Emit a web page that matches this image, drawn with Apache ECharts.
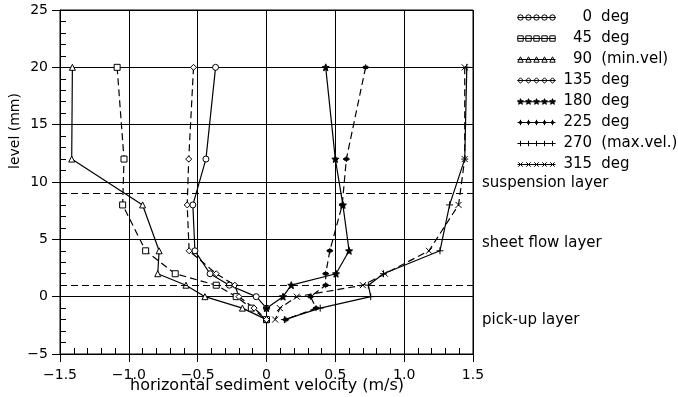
<!DOCTYPE html>
<html><head><meta charset="utf-8">
<script src="https://cdn.jsdelivr.net/npm/echarts@6/dist/echarts.min.js"></script>
<style>html,body{margin:0;padding:0;background:#fff}#c{width:678px;height:397px}</style>
</head><body><div id="c"></div>
<script>
// ---- data ----
const levels = [20, 12, 8, 4, 2, 1, 0, -1, -2];               // mm
const seriesNames = ['0 deg', '45 deg', '90 (min.vel)', '135 deg', '180 deg', '225 deg', '270 (max.vel.)', '315 deg'];
const vel0   = [-0.37, -0.44, -0.535, -0.52, -0.41, -0.27, -0.075, 0.0];
const vel45  = [-1.085, -1.035, -1.045, -0.878, -0.663, -0.365, -0.22, -0.11, 0.0];
const vel90  = [-1.41, -1.415, -0.90, -0.78, -0.79, -0.585, -0.447, -0.175, 0.0];
const vel135 = [-0.53, -0.565, -0.576, -0.562, -0.365, -0.23, -0.20, -0.09, 0.0];
const vel180 = [0.43, 0.50, 0.555, 0.60, 0.505, 0.18, 0.12, 0.0];
const vel225 = [0.72, 0.58, 0.55, 0.46, 0.43, 0.43, 0.32, 0.36, 0.14];
const vel270 = [1.455, 1.44, 1.33, 1.26, 0.85, 0.74, 0.757, 0.39, 0.13];
const vel315 = [1.44, 1.44, 1.395, 1.18, 0.86, 0.70, 0.22, 0.097, 0.063];
const layerLines = [9, 1];
const layerLabels = ['suspension layer', 'sheet flow layer', 'pick-up layer'];
const xTickValues = [-1.5, -1, -0.5, 0, 0.5, 1, 1.5];
const xTickLabels = ['\u22121.5', '\u22121.0', '\u22120.5', '0', '0.5', '1.0', '1.5'];
const yTickValues = [-5, 0, 5, 10, 15, 20, 25];
const yTickLabels = ['\u22125', '0', '5', '10', '15', '20', '25'];
const xName = 'horizontal sediment velocity (m/s)';
const yName = 'level (mm)';

// ---- styling ----
const allVel = [vel0, vel45, vel90, vel135, vel180, vel225, vel270, vel315];
const kinds = ['circle', 'rect', 'triangle', 'diamond', 'star', 'dotplus', 'plus', 'cross'];
const fills = ['#fff', '#fff', '#fff', '#fff', '#000', '#000', '#fff', '#fff'];
const dashed = [false, true, false, true, false, true, false, true];
const F = 'DejaVu Sans';

function starPts(cx, cy, R, r) {
  let s = '';
  for (let i = 0; i < 10; i++) {
    const a = -Math.PI / 2 + i * Math.PI / 5;
    const rr = i % 2 ? r : R;
    s += (i ? 'L' : 'M') + (cx + rr * Math.cos(a)).toFixed(2) + ',' + (cy + rr * Math.sin(a)).toFixed(2);
  }
  return s + 'Z';
}
function circ(cx, cy, r) {
  return `M${cx + r},${cy}A${r},${r} 0 1,1 ${cx - r},${cy}A${r},${r} 0 1,1 ${cx + r},${cy}Z`;
}
function shape(kind, cx, cy, r) {
  switch (kind) {
    case 'circle': return circ(cx, cy, r);
    case 'rect': return `M${cx - r},${cy - r}L${cx + r},${cy - r}L${cx + r},${cy + r}L${cx - r},${cy + r}Z`;
    case 'triangle': return `M${cx},${cy - r}L${cx + r},${cy + r}L${cx - r},${cy + r}Z`;
    case 'diamond': return `M${cx},${cy - r}L${cx + r},${cy}L${cx},${cy + r}L${cx - r},${cy}Z`;
    case 'star': return starPts(cx, cy, r * 1.15, r * 0.5);
    case 'dotplus': return `M${cx},${cy - r}L${cx},${cy + r}` + circ(cx, cy, r * 0.45);
    case 'plus': return `M${cx - r},${cy}L${cx + r},${cy}M${cx},${cy - r}L${cx},${cy + r}`;
    case 'cross': return `M${cx - r * 0.8},${cy - r * 0.8}L${cx + r * 0.8},${cy + r * 0.8}M${cx + r * 0.8},${cy - r * 0.8}L${cx - r * 0.8},${cy + r * 0.8}`;
  }
}
function seriesSymbol(kind) {
  if (['circle', 'rect', 'triangle', 'diamond'].includes(kind)) return kind;
  return 'path://' + shape(kind, 5, 5, 5);
}
function legendIcon(kind) {
  let p = 'M0,3.5L38,3.5';
  [3, 11, 19, 27, 35].forEach(cx => { p += shape(kind, cx, 3.5, 2.7); });
  return 'path://' + p;
}
function lookup(vals, labels, v) {
  const i = vals.findIndex(t => Math.abs(t - v) < 1e-9);
  return i >= 0 ? labels[i] : '';
}

const series = allVel.map((vals, i) => ({
  name: seriesNames[i],
  type: 'line',
  xAxisIndex: 0, yAxisIndex: 0,
  data: vals.map((v, j) => [v, levels[j]]),
  symbol: seriesSymbol(kinds[i]),
  symbolSize: kinds[i] === 'star' ? 7 : (kinds[i] === 'plus' ? 7 : 6),
  showAllSymbol: true,
  lineStyle: { color: '#000', width: 1.2, type: dashed[i] ? [7, 4] : 'solid' },
  itemStyle: { color: fills[i], borderColor: '#000', borderWidth: 1 },
  emphasis: { disabled: true },
  z: 3,
  markLine: i === 0 ? {
    silent: true, symbol: ['none', 'none'], label: { show: false },
    lineStyle: { color: '#000', width: 1.2, type: [7, 4] },
    data: layerLines.map(y => ({ yAxis: y })), animation: false
  } : undefined
}));

const DW = 9.54; // digit width of 15px DejaVu Sans
const chart = echarts.init(document.getElementById('c'), null, { renderer: 'canvas' });
chart.setOption({
  animation: false,
  backgroundColor: '#fff',
  textStyle: { fontFamily: F, color: '#000' },
  grid: { left: 60, right: 205, top: 10, bottom: 43, show: true, borderColor: '#000', borderWidth: 1,
          containLabel: false, outerBoundsMode: 'none' },
  legend: {
    orient: 'vertical', left: 517, top: 10, padding: 0,
    itemWidth: 38, itemHeight: 7, itemGap: 6, selectedMode: false,
    textStyle: {
      fontFamily: F, fontSize: 15, color: '#000', lineHeight: 14,
      rich: {
        d1: { padding: [0, 0, 0, 2 * DW + 3], fontSize: 15, fontFamily: F, lineHeight: 14 },
        d2: { padding: [0, 0, 0, DW + 3], fontSize: 15, fontFamily: F, lineHeight: 14 },
        d3: { padding: [0, 0, 0, 3], fontSize: 15, fontFamily: F, lineHeight: 14 },
        t: { padding: [0, 0, 0, 9], fontSize: 15, fontFamily: F, lineHeight: 14 }
      }
    },
    formatter: name => {
      const m = name.match(/^(\d+)\s(.*)$/);
      return `{d${m[1].length}|${m[1]}}{t|${m[2]}}`;
    },
    data: seriesNames.map((n, i) => ({
      name: n, icon: legendIcon(kinds[i]),
      itemStyle: { color: fills[i], borderColor: '#000', borderWidth: 1 }
    }))
  },
  xAxis: [{
    type: 'value', min: -1.5, max: 1.5, interval: 0.5, position: 'bottom',
    axisLine: { show: true, onZero: false, lineStyle: { color: '#000', width: 1 } },
    axisTick: { show: true, inside: false, length: 8, lineStyle: { color: '#000' } },
    axisLabel: { fontSize: 14, color: '#000', margin: 14, fontFamily: F, showMinLabel: true, showMaxLabel: true,
      formatter: v => lookup(xTickValues, xTickLabels, v) },
    splitLine: { show: true, lineStyle: { color: '#000', width: 1 } }
  }, {
    type: 'value', min: -1.5, max: 1.5, interval: 0.5, position: 'bottom',
    axisLine: { show: false, onZero: false }, axisTick: { show: false, inside: true },
    minorTick: { show: true, splitNumber: 5, length: 6, lineStyle: { color: '#000' } },
    axisLabel: { show: false }, splitLine: { show: false }
  }],
  yAxis: [{
    type: 'value', min: -5, max: 25, interval: 5, position: 'left',
    axisLine: { show: true, onZero: false, lineStyle: { color: '#000', width: 1 } },
    axisTick: { show: true, inside: false, length: 8, lineStyle: { color: '#000' } },
    axisLabel: { fontSize: 14, color: '#000', margin: 12, fontFamily: F, showMinLabel: true, showMaxLabel: true,
      formatter: v => lookup(yTickValues, yTickLabels, v) },
    splitLine: { show: true, lineStyle: { color: '#000', width: 1 } }
  }, {
    type: 'value', min: -5, max: 25, interval: 5, position: 'left',
    axisLine: { show: false, onZero: false }, axisTick: { show: false, inside: true },
    minorTick: { show: true, splitNumber: 5, length: 6, lineStyle: { color: '#000' } },
    axisLabel: { show: false }, splitLine: { show: false }
  }],
  graphic: [
    { type: 'text', x: 15, y: 131, rotation: Math.PI / 2,
      style: { text: yName, fontSize: 14, fontFamily: F, fill: '#000', align: 'center', verticalAlign: 'middle', textAlign: 'center', textVerticalAlign: 'middle' } },
    { type: 'text', x: 267, y: 386,
      style: { text: xName, fontSize: 16, fontFamily: F, fill: '#000', align: 'center', verticalAlign: 'middle', textAlign: 'center', textVerticalAlign: 'middle' } },
    ...layerLabels.map((t, i) => ({
      type: 'text', x: 482, y: [183, 243, 320][i],
      style: { text: t, fontSize: 15, fontFamily: F, fill: '#000', align: 'left', verticalAlign: 'middle', textAlign: 'left', textVerticalAlign: 'middle' }
    }))
  ],
  series
});
</script>
</body></html>
